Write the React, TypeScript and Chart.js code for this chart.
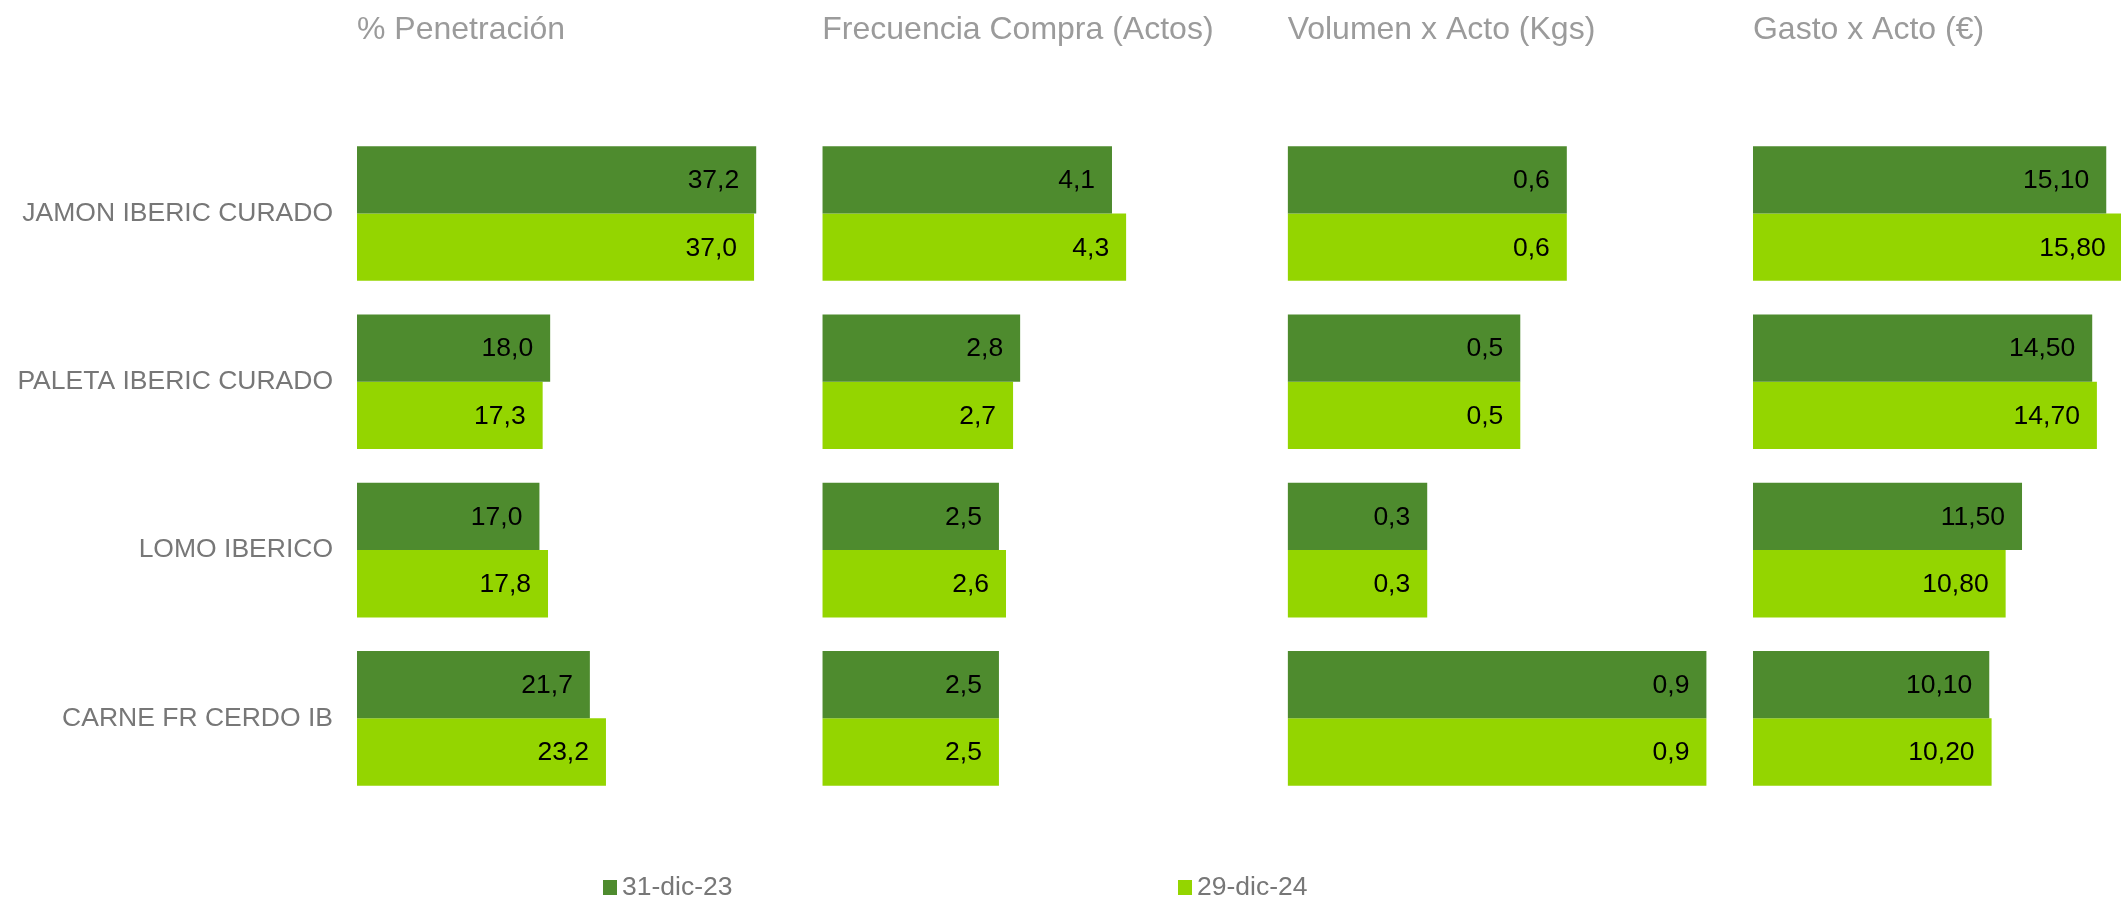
import React, { useEffect, useRef } from "react";
import { Chart, registerables } from "chart.js";

Chart.register(...registerables);

const categories = ["JAMON IBERIC CURADO", "PALETA IBERIC CURADO", "LOMO IBERICO", "CARNE FR CERDO IB"];
const seriesLabels = ["31-dic-23", "29-dic-24"];
const seriesColors = ["#4E8B2E", "#94D500"];
const panelTitles = ["% Penetración", "Frecuencia Compra (Actos)", "Volumen x Acto (Kgs)", "Gasto x Acto (€)"];

const penetracion2023 = [37.2, 18.0, 17.0, 21.7];
const penetracion2024 = [37.0, 17.3, 17.8, 23.2];
const frecuencia2023 = [4.1, 2.8, 2.5, 2.5];
const frecuencia2024 = [4.3, 2.7, 2.6, 2.5];
const volumen2023 = [0.6, 0.5, 0.3, 0.9];
const volumen2024 = [0.6, 0.5, 0.3, 0.9];
const gasto2023 = [15.1, 14.5, 11.5, 10.1];
const gasto2024 = [15.8, 14.7, 10.8, 10.2];

const panelSeries = [
  [penetracion2023, penetracion2024],
  [frecuencia2023, frecuencia2024],
  [volumen2023, volumen2024],
  [gasto2023, gasto2024],
];
const panelMax = [43.36, 6.586, 1.0, 15.73];
const panelWeight = [1, 1, 1, 0.791];
const panelDecimals = [1, 1, 1, 2];

const FONT = "'Liberation Sans', Arial, Helvetica, sans-serif";
const legendXFrac = [0.2843, 0.5554];

const valueLabels = {
  id: "valueLabels",
  afterDatasetsDraw(chart: any) {
    const ctx = chart.ctx;
    ctx.save();
    ctx.font = `26.5px ${FONT}`;
    ctx.fillStyle = "#000000";
    ctx.textAlign = "right";
    ctx.textBaseline = "middle";
    chart.data.datasets.forEach((ds: any, i: number) => {
      const meta = chart.getDatasetMeta(i);
      const dec = panelDecimals[ds.panel];
      meta.data.forEach((bar: any, j: number) => {
        const v = ds.data[j];
        const txt = Number(v).toFixed(dec).replace(".", ",");
        ctx.fillText(txt, bar.x - 17, bar.y + 1);
      });
    });
    ctx.restore();
  },
};

const customLegend = {
  id: "customLegend",
  afterDraw(chart: any) {
    const ctx = chart.ctx;
    ctx.save();
    const y = 888;
    seriesLabels.forEach((lab, i) => {
      const x = chart.width * legendXFrac[i];
      ctx.fillStyle = seriesColors[i];
      ctx.fillRect(x, y - 8, 14, 15);
      ctx.fillStyle = "#777777";
      ctx.font = `26.5px ${FONT}`;
      ctx.textAlign = "left";
      ctx.textBaseline = "middle";
      ctx.fillText(lab, x + 19, y);
    });
    ctx.restore();
  },
};

export default function App() {
  const canvasRef = useRef<HTMLCanvasElement | null>(null);

  useEffect(() => {
    if (!canvasRef.current) return;
    const datasets: any[] = [];
    const scales: any = {
      y: {
        type: "category",
        labels: categories,
        grid: { display: false, drawTicks: false },
        border: { display: false },
        ticks: { color: "#777777", font: { family: FONT, size: 26.5 }, padding: 24 },
        afterFit: (scale: any) => {
          scale.width = 357;
        },
      },
    };
    panelSeries.forEach((series, p) => {
      const axisId = `x${p}`;
      scales[axisId] = {
        type: "linear",
        position: "top",
        stack: "panels",
        stackWeight: panelWeight[p],
        weight: 10 - p,
        min: 0,
        max: panelMax[p],
        grid: { display: false, drawTicks: false },
        border: { display: false },
        ticks: { display: false },
        title: {
          display: true,
          text: panelTitles[p],
          align: "start",
          color: "#9B9B9B",
          font: { family: FONT, size: 32 },
          padding: { top: 11.3, bottom: 79.7 },
        },
      };
      series.forEach((values, s) => {
        datasets.push({
          label: seriesLabels[s],
          data: values,
          panel: p,
          xAxisID: axisId,
          yAxisID: "y",
          stack: s === 0 ? "a" : "b",
          backgroundColor: seriesColors[s],
          borderWidth: 0,
          categoryPercentage: 0.8,
          barPercentage: 1.0,
        });
      });
    });

    const chart = new Chart(canvasRef.current, {
      type: "bar",
      data: { labels: categories, datasets },
      options: {
        indexAxis: "y",
        animation: false,
        responsive: false,
        devicePixelRatio: 1,
        layout: { padding: { left: 0, right: 0, top: 0, bottom: 96.5 } },
        font: { family: FONT },
        plugins: {
          legend: { display: false },
          tooltip: { enabled: false },
          title: { display: false },
        },
        scales,
      } as any,
      plugins: [valueLabels, customLegend],
    });
    return () => chart.destroy();
  }, []);

  return (
    <div style={{ position: "fixed", left: 0, top: 0, width: 2121, height: 899, background: "#ffffff" }}>
      <canvas ref={canvasRef} width={2121} height={899} style={{ width: 2121, height: 899, display: "block" }} />
    </div>
  );
}
